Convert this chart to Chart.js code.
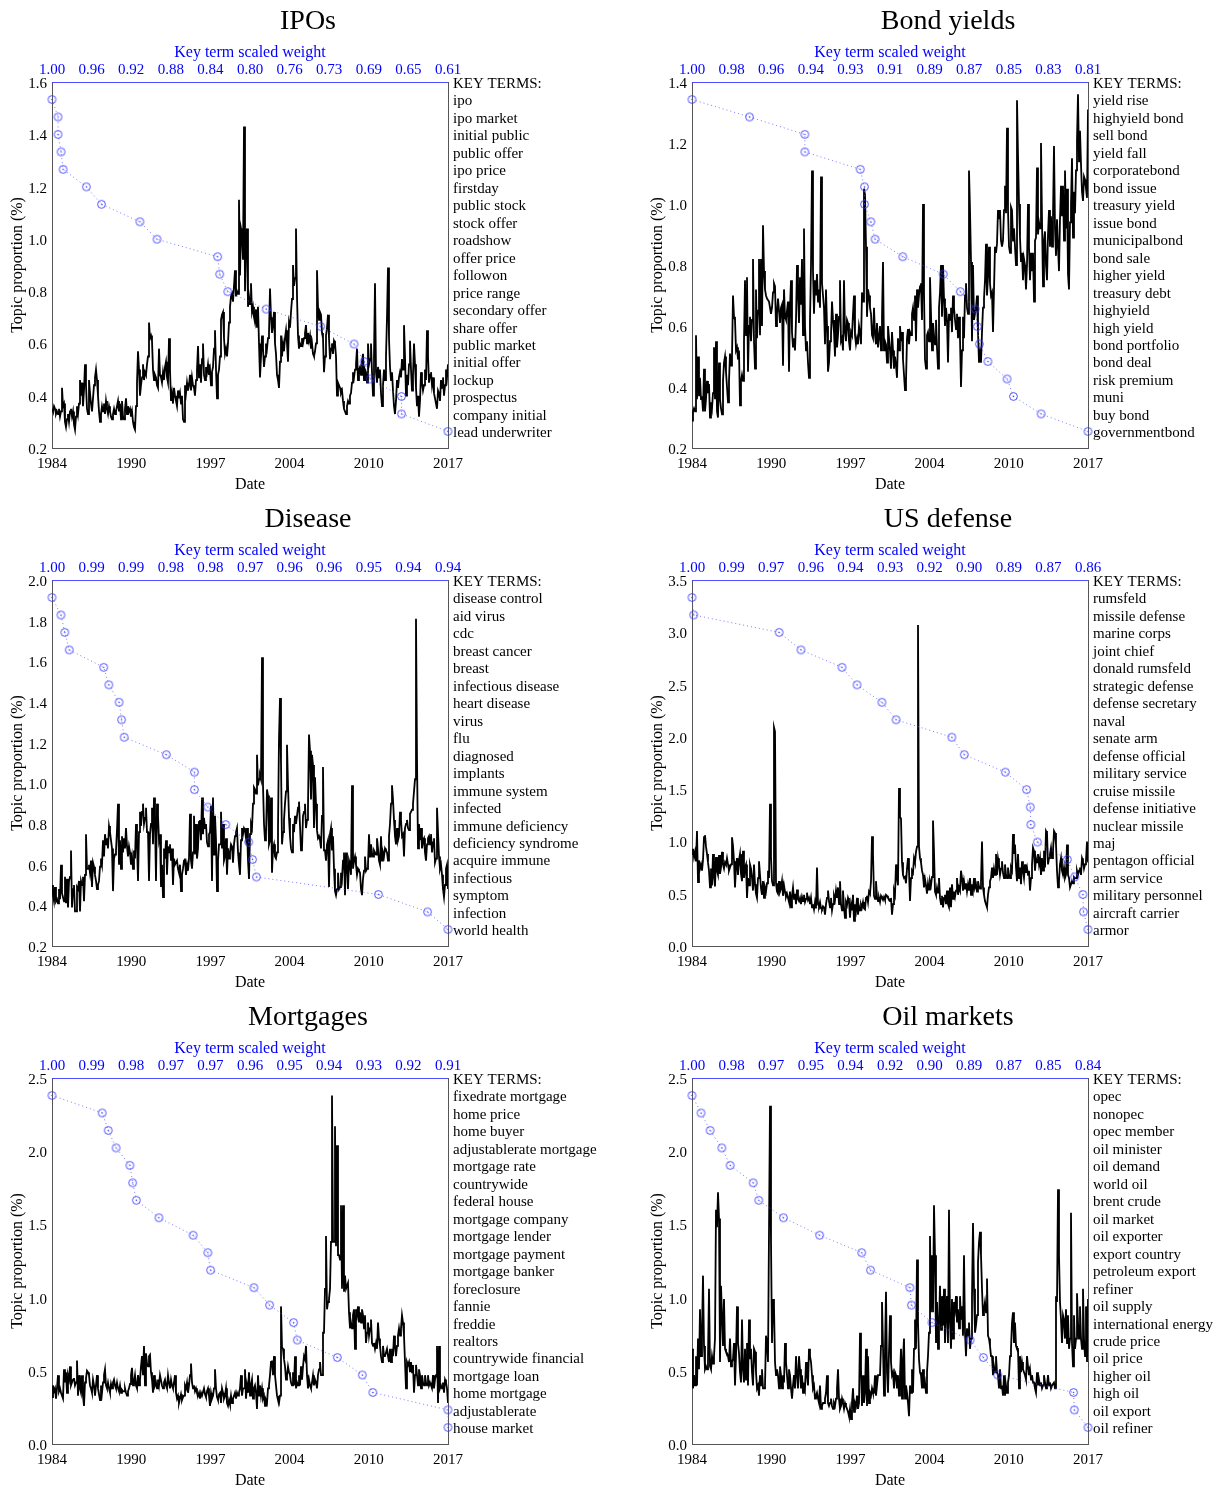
<!DOCTYPE html>
<html>
<head>
<meta charset="utf-8">
<title>Topic proportions</title>
<script src="https://cdn.jsdelivr.net/npm/chart.js@4.4.1/dist/chart.umd.min.js"></script>
<style>
  html, body { margin: 0; padding: 0; background: #fff; overflow: hidden; }
  #wrap { position: relative; width: 1217px; height: 1486px; }
  #wrap canvas { position: absolute; }
</style>
</head>
<body>
<div id="wrap">
  <canvas id="ipo"></canvas>
  <canvas id="bond"></canvas>
  <canvas id="disease"></canvas>
  <canvas id="defense"></canvas>
  <canvas id="mortgage"></canvas>
  <canvas id="oil"></canvas>
</div>
<script>
Chart.defaults.font.family = '"Liberation Serif", "Times New Roman", serif';
Chart.defaults.color = '#000';

// ────────── shared date axis ──────────
const startYear = 1984;
const endYear = 2017;
const dateTicks = ['1984', '1990', '1997', '2004', '2010', '2017'];

// ────────── IPOs ──────────
const ipoTitle = 'IPOs';
const ipoRange = [0.2, 1.6, 0.2];
const ipoWeightTicks = ['1.00','0.96','0.92','0.88','0.84','0.80','0.76','0.73','0.69','0.65','0.61'];
const ipoTerms = ['ipo','ipo market','initial public','public offer','ipo price','firstday','public stock',
  'stock offer','roadshow','offer price','followon','price range','secondary offer','share offer',
  'public market','initial offer','lockup','prospectus','company initial','lead underwriter'];
const ipoWeights = [1.000,0.994,0.994,0.991,0.989,0.966,0.951,0.913,0.896,0.836,
  0.834,0.826,0.788,0.734,0.701,0.691,0.685,0.654,0.654,0.608];
// monthly, Jan 1984 .. Jan 2017
const ipoSeries = [
  0.35,0.34,0.36,0.35,0.33,0.34,0.33,0.35,0.32,0.34,0.43,0.36,
  0.37,0.30,0.28,0.31,0.33,0.30,0.34,0.35,0.32,0.34,0.29,0.27,
  0.32,0.36,0.33,0.37,0.46,0.40,0.45,0.36,0.42,0.52,0.44,0.35,
  0.33,0.46,0.41,0.37,0.34,0.39,0.44,0.47,0.50,0.46,0.40,0.34,
  0.30,0.33,0.36,0.34,0.37,0.33,0.38,0.35,0.33,0.36,0.34,0.32,
  0.31,0.33,0.35,0.33,0.34,0.36,0.38,0.34,0.37,0.31,0.38,0.32,
  0.31,0.35,0.39,0.33,0.36,0.34,0.35,0.32,0.34,0.30,0.28,0.27,
  0.36,0.45,0.57,0.50,0.40,0.44,0.47,0.52,0.46,0.49,0.48,0.52,
  0.55,0.68,0.62,0.63,0.61,0.50,0.46,0.48,0.47,0.44,0.43,0.58,
  0.48,0.47,0.45,0.49,0.46,0.51,0.53,0.47,0.45,0.62,0.50,0.38,
  0.41,0.37,0.43,0.40,0.38,0.36,0.42,0.39,0.41,0.37,0.40,0.31,
  0.30,0.44,0.41,0.45,0.42,0.44,0.48,0.42,0.47,0.44,0.43,0.40,
  0.46,0.50,0.59,0.47,0.52,0.45,0.54,0.60,0.48,0.46,0.51,0.49,
  0.52,0.48,0.50,0.44,0.49,0.51,0.58,0.65,0.50,0.39,0.48,0.50,
  0.55,0.69,0.71,0.72,0.62,0.56,0.58,0.55,0.60,0.68,0.74,0.78,
  0.79,0.76,0.82,0.88,0.78,0.80,0.79,1.15,0.86,1.04,1.02,0.92,
  1.43,0.80,1.00,1.04,0.74,0.78,0.75,0.83,0.72,0.74,0.70,0.68,
  0.73,0.66,0.74,0.60,0.47,0.55,0.63,0.58,0.51,0.55,0.60,0.58,
  0.62,0.64,0.81,0.70,0.64,0.67,0.72,0.60,0.56,0.48,0.46,0.43,
  0.53,0.63,0.55,0.60,0.57,0.62,0.65,0.60,0.53,0.68,0.66,0.72,
  0.77,0.90,0.82,0.85,1.04,0.78,0.63,0.58,0.60,0.59,0.62,0.60,
  0.62,0.64,0.67,0.60,0.64,0.61,0.63,0.58,0.60,0.56,0.55,0.57,
  0.60,0.88,0.74,0.69,0.72,0.71,0.64,0.62,0.49,0.55,0.63,0.66,
  0.71,0.62,0.54,0.58,0.60,0.56,0.61,0.60,0.55,0.40,0.45,0.44,
  0.43,0.41,0.42,0.38,0.35,0.34,0.33,0.36,0.38,0.37,0.40,0.41,
  0.45,0.49,0.47,0.50,0.52,0.58,0.46,0.50,0.51,0.48,0.53,0.56,
  0.46,0.50,0.49,0.45,0.60,0.52,0.54,0.60,0.49,0.40,0.55,0.83,
  0.49,0.45,0.51,0.47,0.50,0.41,0.36,0.44,0.50,0.46,0.55,0.70,
  0.89,0.62,0.51,0.46,0.49,0.42,0.36,0.33,0.38,0.46,0.43,0.47,
  0.49,0.47,0.54,0.50,0.67,0.55,0.40,0.48,0.44,0.52,0.61,0.50,
  0.42,0.48,0.60,0.52,0.43,0.36,0.40,0.32,0.38,0.49,0.45,0.42,
  0.44,0.50,0.46,0.65,0.55,0.45,0.48,0.49,0.44,0.47,0.41,0.39,
  0.37,0.35,0.42,0.41,0.38,0.46,0.43,0.47,0.40,0.44,0.50,0.47,
  0.52
];

// ────────── Bond yields ──────────
const bondTitle = 'Bond yields';
const bondRange = [0.2, 1.4, 0.2];
const bondWeightTicks = ['1.00','0.98','0.96','0.94','0.93','0.91','0.89','0.87','0.85','0.83','0.81'];
const bondTerms = ['yield rise','highyield bond','sell bond','yield fall','corporatebond','bond issue',
  'treasury yield','issue bond','municipalbond','bond sale','higher yield','treasury debt','highyield',
  'high yield','bond portfolio','bond deal','risk premium','muni','buy bond','governmentbond'];
const bondWeights = [1.000,0.973,0.947,0.947,0.921,0.919,0.919,0.916,0.914,0.901,
  0.882,0.874,0.867,0.866,0.865,0.861,0.852,0.849,0.836,0.814];
const bondSeries = [
  0.29,0.32,0.33,0.32,0.57,0.36,0.50,0.37,0.43,0.36,0.37,0.32,
  0.46,0.32,0.36,0.42,0.38,0.41,0.30,0.35,0.33,0.38,0.53,0.36,
  0.55,0.32,0.30,0.48,0.36,0.33,0.31,0.42,0.48,0.50,0.45,0.40,
  0.35,0.42,0.51,0.47,0.50,0.70,0.63,0.62,0.52,0.53,0.49,0.52,
  0.34,0.42,0.44,0.42,0.55,0.75,0.57,0.76,0.45,0.60,0.63,0.55,
  0.62,0.82,0.55,0.46,0.72,0.56,0.65,0.82,0.57,0.82,0.60,0.93,
  0.78,0.72,0.70,0.69,0.69,0.68,0.66,0.64,0.66,0.71,0.74,0.73,
  0.60,0.64,0.69,0.65,0.61,0.66,0.67,0.47,0.72,0.63,0.62,0.65,
  0.68,0.45,0.66,0.75,0.58,0.53,0.56,0.52,0.62,0.80,0.71,0.61,
  0.76,0.67,0.82,0.57,0.92,0.60,0.52,0.55,0.48,0.43,0.62,0.80,
  1.11,0.78,0.64,0.75,0.70,0.77,0.68,0.72,0.66,1.09,0.74,0.70,
  0.66,0.54,0.72,0.60,0.45,0.48,0.55,0.57,0.68,0.62,0.58,0.50,
  0.64,0.53,0.57,0.63,0.75,0.55,0.56,0.52,0.75,0.58,0.55,0.62,
  0.61,0.55,0.52,0.58,0.57,0.64,0.70,0.57,0.54,0.56,0.54,0.60,
  0.58,0.54,0.71,0.68,1.05,1.03,0.86,0.63,0.72,0.70,0.66,0.64,
  0.57,0.56,0.66,0.57,0.54,0.61,0.53,0.53,0.60,0.52,0.63,0.81,
  0.52,0.55,0.54,0.48,0.60,0.56,0.52,0.46,0.58,0.52,0.46,0.50,
  0.47,0.43,0.56,0.52,0.60,0.55,0.58,0.49,0.44,0.39,0.42,0.56,
  0.59,0.54,0.58,0.57,0.64,0.66,0.62,0.70,0.55,0.72,0.66,0.70,
  0.73,0.74,0.62,1.00,0.71,0.49,0.46,0.57,0.58,0.55,0.76,0.64,
  0.52,0.61,0.57,0.54,0.62,0.53,0.46,0.66,0.71,0.80,0.63,0.80,
  0.69,0.60,0.66,0.62,0.48,0.64,0.62,0.66,0.58,0.70,0.66,0.62,
  0.59,0.64,0.56,0.63,0.56,0.40,0.52,0.63,0.56,0.70,0.74,0.66,
  0.64,1.11,0.98,0.81,0.55,0.80,0.62,0.62,0.66,0.70,0.58,0.48,
  0.51,0.48,0.58,0.66,0.69,0.75,0.87,0.70,0.76,0.86,0.74,0.70,
  0.71,0.58,0.72,0.86,0.84,0.87,0.98,0.95,0.98,0.88,0.86,0.88,
  0.98,1.06,0.97,1.25,0.98,0.86,0.84,0.99,0.98,0.88,0.92,0.86,
  0.80,1.34,1.16,1.00,0.89,0.81,0.84,0.75,0.82,0.80,0.72,0.80,
  1.00,0.86,0.75,0.84,0.78,0.84,0.68,0.88,0.89,1.12,0.90,0.94,
  0.92,1.20,0.95,0.73,0.88,0.91,0.80,0.75,0.90,0.98,0.86,0.96,
  0.86,0.96,1.19,0.92,0.83,0.95,0.86,0.78,0.95,1.06,0.96,1.06,
  0.88,1.11,0.92,1.05,0.77,0.72,0.94,1.00,1.15,0.89,1.04,0.97,
  1.11,1.21,1.36,1.14,1.24,1.13,1.04,1.01,1.09,1.08,1.05,1.02,
  1.31
];

// ────────── Disease ──────────
const diseaseTitle = 'Disease';
const diseaseRange = [0.2, 2.0, 0.2];
const diseaseWeightTicks = ['1.00','0.99','0.99','0.98','0.98','0.97','0.96','0.96','0.95','0.94','0.94'];
const diseaseTerms = ['disease control','aid virus','cdc','breast cancer','breast','infectious disease',
  'heart disease','virus','flu','diagnosed','implants','immune system','infected','immune deficiency',
  'deficiency syndrome','acquire immune','infectious','symptom','infection','world health'];
const diseaseWeights = [1.000,0.9986,0.9980,0.9973,0.9919,0.9911,0.9895,0.9891,0.9887,0.9821,
  0.9777,0.9777,0.9756,0.9728,0.9692,0.9686,0.9680,0.9489,0.9412,0.9380];
const diseaseSeries = [
  0.50,0.45,0.42,0.49,0.42,0.43,0.41,0.48,0.43,0.60,0.46,0.44,
  0.42,0.54,0.41,0.53,0.39,0.52,0.54,0.67,0.39,0.48,0.50,0.37,
  0.37,0.49,0.48,0.52,0.37,0.52,0.50,0.54,0.42,0.55,0.75,0.58,
  0.58,0.60,0.56,0.62,0.49,0.61,0.59,0.55,0.52,0.48,0.50,0.52,
  0.59,0.63,0.60,0.72,0.64,0.75,0.70,0.73,0.68,0.79,0.76,0.72,
  0.68,0.47,0.63,0.65,0.67,0.77,0.90,0.60,0.72,0.58,0.74,0.66,
  0.73,0.68,0.78,0.69,0.64,0.69,0.66,0.60,0.64,0.58,0.67,0.63,
  0.80,0.70,0.52,0.76,0.86,0.79,0.86,0.90,0.80,0.83,0.88,0.76,
  0.76,0.52,0.75,0.80,0.88,0.70,0.93,0.82,0.52,0.90,0.84,0.72,
  0.75,0.49,0.60,0.44,0.68,0.63,0.72,0.55,0.69,0.66,0.70,0.62,
  0.68,0.50,0.63,0.60,0.60,0.62,0.58,0.56,0.60,0.47,0.55,0.58,
  0.62,0.63,0.55,0.60,0.57,0.63,0.85,0.62,0.58,0.66,0.84,0.65,
  0.80,0.63,0.68,0.81,0.82,0.72,0.93,0.75,0.83,0.78,0.80,0.71,
  0.69,0.75,0.76,0.89,0.52,0.93,0.65,0.84,0.72,0.47,0.62,0.70,
  0.70,0.86,0.68,0.80,0.62,0.64,0.73,0.55,0.68,0.63,0.66,0.70,
  0.69,0.61,0.70,0.74,0.76,0.78,0.66,0.60,0.55,0.72,0.78,0.75,
  0.78,0.77,0.73,0.78,0.62,0.53,0.75,0.80,0.78,0.90,0.98,0.97,
  0.95,1.14,0.99,1.02,1.04,1.02,1.62,0.99,0.80,0.72,0.75,0.97,
  0.94,0.70,0.72,0.93,0.56,0.68,0.70,0.64,0.63,0.66,0.78,1.22,
  1.42,1.10,0.70,0.76,0.82,0.90,0.96,1.19,0.99,0.83,0.74,0.68,
  0.66,0.80,0.76,0.84,0.80,0.84,0.88,0.91,0.79,0.67,0.68,0.84,
  0.86,0.90,0.78,0.82,0.89,1.24,1.16,0.92,1.14,1.09,0.78,1.03,
  0.90,0.77,0.73,0.74,0.72,0.68,0.84,1.08,0.67,0.67,0.62,0.70,
  0.72,0.49,0.75,0.78,0.67,0.74,0.58,0.47,0.45,0.48,0.56,0.48,
  0.49,0.56,0.53,0.62,0.66,0.45,0.66,0.60,0.48,0.62,0.60,0.55,
  0.99,0.58,0.62,0.64,0.60,0.55,0.58,0.57,0.56,0.48,0.45,0.53,
  0.57,0.64,0.57,0.58,0.60,0.75,0.64,0.70,0.66,0.64,0.67,0.66,
  0.65,0.73,0.68,0.62,0.60,0.74,0.62,0.66,0.64,0.68,0.67,0.66,
  0.62,0.74,0.80,0.90,0.99,0.92,0.82,0.74,0.70,0.78,0.72,0.74,
  0.86,0.82,0.74,0.75,0.64,0.78,0.80,0.82,0.78,0.77,0.85,0.86,
  0.87,0.90,0.96,1.02,1.81,1.12,0.68,0.80,0.72,0.78,0.68,0.72,
  0.73,0.66,0.62,0.70,0.73,0.74,0.70,0.75,0.66,0.71,0.73,0.61,
  0.63,0.88,0.76,0.64,0.58,0.60,0.55,0.48,0.44,0.50,0.58,0.60,
  0.48
];

// ────────── US defense ──────────
const defenseTitle = 'US defense';
const defenseRange = [0.0, 3.5, 0.5];
const defenseWeightTicks = ['1.00','0.99','0.97','0.96','0.94','0.93','0.92','0.90','0.89','0.87','0.86'];
const defenseTerms = ['rumsfeld','missile defense','marine corps','joint chief','donald rumsfeld',
  'strategic defense','defense secretary','naval','senate arm','defense official','military service',
  'cruise missile','defense initiative','nuclear missile','maj','pentagon official','arm service',
  'military personnel','aircraft carrier','armor'];
const defenseWeights = [1.000,0.9994,0.9692,0.9615,0.9470,0.9417,0.9329,0.9279,0.9082,0.9038,
  0.8893,0.8818,0.8805,0.8803,0.8780,0.8674,0.8648,0.8619,0.8617,0.8601];
const defenseSeries = [
  0.88,0.93,0.85,0.90,0.81,1.10,0.61,0.82,0.74,0.78,0.72,0.82,
  1.04,1.06,0.95,0.88,0.80,0.72,0.56,0.74,0.58,0.88,0.66,0.57,
  0.85,0.72,0.68,0.87,0.69,0.75,0.90,0.78,0.74,0.80,0.78,0.84,
  0.78,0.72,0.75,0.78,1.04,0.96,0.81,0.56,0.75,0.84,0.68,0.82,
  0.88,0.69,0.62,0.91,0.65,0.75,0.78,0.46,0.65,0.58,0.78,0.74,
  0.65,0.53,0.78,0.59,0.50,0.46,0.65,0.81,0.68,0.55,0.49,0.62,
  0.46,0.56,0.52,0.60,0.72,0.65,1.36,0.85,0.62,0.58,2.09,2.05,
  0.60,0.52,0.50,0.62,0.52,0.55,0.62,0.48,0.58,0.52,0.47,0.50,
  0.46,0.42,0.52,0.37,0.48,0.56,0.45,0.50,0.40,0.54,0.45,0.43,
  0.46,0.40,0.47,0.43,0.49,0.42,0.45,0.51,0.44,0.46,0.40,0.46,
  0.37,0.40,0.35,0.42,0.36,0.75,0.40,0.38,0.42,0.36,0.35,0.38,
  0.37,0.30,0.40,0.46,0.53,0.43,0.37,0.46,0.34,0.40,0.48,0.44,
  0.53,0.46,0.56,0.40,0.62,0.40,0.34,0.53,0.37,0.27,0.42,0.39,
  0.46,0.43,0.27,0.40,0.34,0.49,0.24,0.40,0.34,0.46,0.30,0.38,
  0.34,0.40,0.37,0.42,0.36,0.35,0.46,0.48,0.42,0.52,0.50,0.62,
  1.05,0.88,0.48,0.45,0.62,0.47,0.43,0.46,0.42,0.48,0.46,0.44,
  0.47,0.44,0.49,0.48,0.46,0.45,0.43,0.46,0.30,0.40,0.53,0.49,
  0.78,0.65,0.58,1.51,1.23,1.22,0.80,0.68,0.65,0.66,0.60,0.74,
  0.84,0.72,0.43,0.65,0.72,0.70,0.84,0.80,0.90,0.95,3.07,0.95,
  0.84,0.80,0.72,0.68,0.56,0.64,0.58,0.50,0.60,0.54,0.62,0.58,
  0.66,1.20,0.90,0.52,0.49,0.56,0.51,0.65,0.46,0.40,0.48,0.37,
  0.46,0.49,0.40,0.53,0.40,0.37,0.56,0.37,0.59,0.45,0.52,0.47,
  0.53,0.65,0.49,0.56,0.53,0.72,0.65,0.53,0.62,0.55,0.60,0.52,
  0.59,0.53,0.65,0.49,0.59,0.53,0.65,0.56,0.59,0.52,0.62,0.57,
  0.55,0.62,1.00,0.56,0.49,0.43,0.40,0.37,0.49,0.56,0.62,0.65,
  0.75,0.65,0.74,0.68,0.88,0.68,0.84,0.78,0.68,0.74,0.81,0.70,
  0.65,0.78,0.68,0.65,0.75,0.68,0.65,0.75,0.72,1.07,0.88,0.97,
  0.75,0.62,0.88,0.65,0.75,0.59,0.81,0.72,0.65,0.78,0.70,0.75,
  0.68,0.72,0.53,0.65,0.78,0.94,0.91,0.72,0.84,0.80,0.88,0.78,
  0.84,0.68,0.84,0.72,0.91,0.75,1.10,1.08,0.78,0.84,0.88,0.94,
  0.84,0.91,1.10,1.08,0.97,0.72,0.56,0.62,0.78,0.84,0.72,0.68,
  0.75,0.65,0.68,0.97,0.68,0.65,0.56,0.56,0.62,0.60,0.66,0.65,
  0.65,0.72,0.68,0.72,0.75,0.68,0.84,0.81,0.74,0.78,0.82,1.00,
  0.80
];

// ────────── Mortgages ──────────
const mortgageTitle = 'Mortgages';
const mortgageRange = [0.0, 2.5, 0.5];
const mortgageWeightTicks = ['1.00','0.99','0.98','0.97','0.97','0.96','0.95','0.94','0.93','0.92','0.91'];
const mortgageTerms = ['fixedrate mortgage','home price','home buyer','adjustablerate mortgage',
  'mortgage rate','countrywide','federal house','mortgage company','mortgage lender','mortgage payment',
  'mortgage banker','foreclosure','fannie','freddie','realtors','countrywide financial','mortgage loan',
  'home mortgage','adjustablerate','house market'];
const mortgageWeights = [1.000,0.9891,0.9878,0.9861,0.9831,0.9825,0.9817,0.9768,0.9694,0.9662,
  0.9656,0.9562,0.9528,0.9476,0.9468,0.9381,0.9327,0.9304,0.9141,0.9141];
const mortgageSeries = [
  0.32,0.40,0.36,0.38,0.31,0.38,0.47,0.36,0.38,0.35,0.33,0.31,
  0.51,0.42,0.49,0.35,0.47,0.44,0.53,0.40,0.42,0.44,0.45,0.40,
  0.42,0.57,0.33,0.47,0.38,0.35,0.47,0.33,0.26,0.42,0.45,0.50,
  0.49,0.47,0.40,0.38,0.35,0.44,0.40,0.33,0.40,0.47,0.38,0.34,
  0.30,0.40,0.35,0.42,0.47,0.51,0.40,0.38,0.42,0.38,0.35,0.41,
  0.38,0.42,0.44,0.40,0.38,0.42,0.38,0.36,0.40,0.35,0.37,0.36,
  0.36,0.38,0.35,0.33,0.36,0.38,0.41,0.47,0.52,0.40,0.42,0.47,
  0.40,0.38,0.47,0.40,0.44,0.53,0.60,0.47,0.67,0.40,0.62,0.55,
  0.53,0.60,0.61,0.49,0.44,0.35,0.47,0.40,0.42,0.38,0.44,0.40,
  0.47,0.47,0.40,0.38,0.42,0.44,0.40,0.38,0.47,0.42,0.38,0.44,
  0.40,0.38,0.42,0.47,0.35,0.31,0.33,0.28,0.31,0.34,0.30,0.32,
  0.33,0.40,0.38,0.42,0.35,0.40,0.47,0.55,0.42,0.38,0.40,0.36,
  0.38,0.35,0.33,0.35,0.31,0.35,0.33,0.33,0.38,0.34,0.32,0.36,
  0.38,0.33,0.26,0.35,0.31,0.33,0.38,0.51,0.38,0.32,0.30,0.34,
  0.35,0.28,0.38,0.35,0.31,0.33,0.38,0.28,0.26,0.30,0.27,0.33,
  0.28,0.31,0.33,0.35,0.31,0.35,0.33,0.35,0.38,0.47,0.33,0.38,
  0.38,0.51,0.31,0.40,0.35,0.49,0.33,0.40,0.44,0.31,0.38,0.40,
  0.35,0.24,0.47,0.33,0.40,0.33,0.38,0.31,0.33,0.26,0.30,0.28,
  0.38,0.40,0.47,0.56,0.57,0.47,0.60,0.47,0.40,0.33,0.30,0.28,
  0.33,0.94,0.66,0.65,0.58,0.53,0.44,0.47,0.53,0.49,0.47,0.42,
  0.40,0.49,0.40,0.60,0.38,0.42,0.40,0.47,0.40,0.53,0.44,0.53,
  0.60,0.58,0.67,0.47,0.38,0.44,0.40,0.38,0.42,0.47,0.40,0.44,
  0.42,0.38,0.47,0.51,0.56,0.47,0.47,0.76,0.76,1.06,1.42,0.92,
  0.97,0.99,1.06,1.38,2.38,1.38,1.38,2.17,1.35,2.04,1.29,1.29,
  1.26,1.63,1.06,1.63,1.04,1.15,1.06,1.06,1.10,0.90,0.79,0.83,
  0.79,0.88,0.92,0.65,0.92,0.88,0.94,0.83,0.90,0.83,0.92,0.88,
  0.79,0.88,0.69,0.76,0.83,0.74,0.79,0.85,0.69,0.67,0.69,0.65,
  0.69,0.65,0.83,0.72,0.67,0.60,0.56,0.67,0.60,0.60,0.60,0.65,
  0.60,0.56,0.65,0.56,0.65,0.60,0.74,0.67,0.60,0.67,0.74,0.79,
  0.74,0.79,0.88,0.83,0.74,0.56,0.38,0.56,0.54,0.56,0.49,0.56,
  0.49,0.54,0.35,0.47,0.54,0.47,0.40,0.51,0.47,0.38,0.47,0.42,
  0.40,0.47,0.42,0.40,0.47,0.40,0.42,0.40,0.38,0.47,0.38,0.44,
  0.47,0.67,0.28,0.67,0.38,0.40,0.38,0.42,0.35,0.44,0.42,0.38,
  0.28
];

// ────────── Oil markets ──────────
const oilTitle = 'Oil markets';
const oilRange = [0.0, 2.5, 0.5];
const oilWeightTicks = ['1.00','0.98','0.97','0.95','0.94','0.92','0.90','0.89','0.87','0.85','0.84'];
const oilTerms = ['opec','nonopec','opec member','oil minister','oil demand','world oil','brent crude',
  'oil market','oil exporter','export country','petroleum export','refiner','oil supply',
  'international energy','crude price','oil price','higher oil','high oil','oil export','oil refiner'];
const oilWeights = [1.000,0.9963,0.9926,0.9878,0.9844,0.9750,0.9727,0.9626,0.9478,0.9306,
  0.9270,0.9109,0.9103,0.9019,0.8863,0.8809,0.8750,0.8440,0.8437,0.8381];
const oilSeries = [
  0.65,0.38,0.47,0.40,0.60,0.40,0.72,0.51,0.92,0.60,0.76,1.15,
  0.67,0.51,0.53,0.51,0.60,1.06,0.53,0.51,0.60,0.55,0.60,0.72,
  1.60,1.48,1.72,1.54,0.56,1.08,0.88,0.67,0.99,0.65,0.63,0.62,
  0.60,0.56,0.72,0.53,0.56,0.58,0.69,0.40,0.60,0.94,0.69,0.62,
  0.49,0.42,0.85,0.51,0.42,0.65,0.44,0.69,0.40,0.85,0.58,0.65,
  0.49,0.40,0.65,0.63,0.49,0.38,0.40,0.33,0.47,0.40,0.51,0.38,
  0.38,0.40,0.74,0.69,0.56,1.45,2.31,1.38,0.69,0.99,0.94,0.56,
  0.47,0.51,0.47,0.38,0.53,0.47,0.38,0.47,0.42,0.69,0.56,0.47,
  0.38,0.51,0.47,0.38,0.31,0.40,0.47,0.38,0.60,0.47,0.38,0.60,
  0.51,0.38,0.47,0.35,0.42,0.38,0.56,0.47,0.40,0.65,0.60,0.56,
  0.47,0.38,0.40,0.31,0.33,0.35,0.31,0.28,0.40,0.24,0.26,0.28,
  0.28,0.31,0.35,0.47,0.28,0.26,0.28,0.31,0.26,0.24,0.28,0.26,
  0.31,0.38,0.51,0.31,0.24,0.26,0.31,0.28,0.24,0.28,0.26,0.24,
  0.22,0.19,0.24,0.17,0.28,0.38,0.22,0.28,0.26,0.33,0.24,0.28,
  0.76,0.51,0.26,0.47,0.28,0.35,0.65,0.26,0.60,0.28,0.35,0.33,
  0.38,0.35,0.35,0.47,0.33,0.40,0.47,0.47,0.47,0.67,0.97,0.67,
  0.33,0.65,1.04,0.49,0.35,0.63,0.88,0.56,0.47,0.49,0.38,0.49,
  0.47,0.38,0.47,0.33,0.47,0.65,0.31,0.58,0.72,0.31,0.40,0.35,
  0.28,0.19,0.40,0.35,0.51,0.35,0.65,0.85,0.65,1.26,0.83,0.58,
  0.49,0.47,0.38,0.51,0.38,0.42,0.35,0.49,0.60,0.76,1.42,0.90,
  1.29,0.90,1.63,1.29,0.69,0.97,0.65,0.83,1.08,0.78,1.01,0.81,
  1.06,0.69,0.88,1.01,0.69,1.60,0.83,0.65,0.99,0.72,0.97,0.92,
  1.01,0.83,0.92,0.79,1.01,0.85,0.94,0.74,1.29,0.76,0.60,0.79,
  0.74,0.83,0.65,0.72,1.01,1.51,1.06,0.76,0.81,0.88,1.24,1.38,
  1.45,1.29,1.06,0.88,0.92,0.97,0.90,1.13,0.74,0.72,0.67,0.60,
  0.60,0.47,0.53,0.49,0.60,0.49,0.47,0.38,0.51,0.38,0.40,0.33,
  0.47,0.33,0.40,0.35,0.42,0.47,0.60,0.65,0.83,0.90,0.69,0.83,
  0.67,0.65,0.65,0.38,0.60,0.49,0.56,0.51,0.49,0.47,0.44,0.60,
  0.53,0.47,0.51,0.44,0.47,0.42,0.42,0.38,0.35,0.49,0.40,0.44,
  0.40,0.42,0.38,0.40,0.47,0.42,0.38,0.40,0.47,0.40,0.42,0.38,
  0.40,0.40,0.42,0.38,1.01,0.97,1.74,1.29,0.97,0.85,0.69,0.88,
  0.85,0.72,0.92,0.69,0.88,0.65,0.72,1.58,0.69,0.53,0.88,0.65,
  0.72,1.03,0.83,0.72,0.94,0.72,0.65,1.06,0.72,0.60,0.94,0.56,
  0.99
];

// ────────── drawing ──────────
const PANEL_H = 498;
const PLOT_LEFT = 52, PLOT_TOP = 82, PLOT_RIGHT = 448, PLOT_BOTTOM = 448;
const BLUE = '#0000ff';
const AXIS_GREY = '#555';

// hollow blue circle with a centre dot for the key-term markers
const ringMarker = (() => {
  const c = document.createElement('canvas');
  c.width = c.height = 13;
  const g = c.getContext('2d');
  g.strokeStyle = 'rgba(50,50,255,0.85)';
  g.fillStyle = 'rgba(50,50,255,0.85)';
  g.lineWidth = 1;
  g.beginPath(); g.arc(6.5, 6.5, 3.9, 0, 2 * Math.PI); g.stroke();
  g.beginPath(); g.arc(6.5, 6.5, 0.8, 0, 2 * Math.PI); g.fill();
  return c;
})();

const panelTitle = {
  id: 'panelTitle',
  afterDraw(chart, args, opts) {
    const { ctx, chartArea } = chart;
    ctx.save();
    ctx.font = '28px "Liberation Serif", "Times New Roman", serif';
    ctx.fillStyle = '#000';
    ctx.textAlign = 'center';
    ctx.textBaseline = 'middle';
    ctx.fillText(opts.text, chartArea.left + 256, 22);
    ctx.restore();
  }
};

function drawPanel(id, left, top, width, p) {
  const canvas = document.getElementById(id);
  canvas.width = width;
  canvas.height = PANEL_H;
  canvas.style.left = left + 'px';
  canvas.style.top = top + 'px';

  const wMin = Math.min(...p.weights);
  const [yMin, yMax, yStep] = p.range;
  const noGrid = { display: false, drawTicks: false };
  const tickFont = { size: 15 };
  const titleFont = { size: 16 };

  new Chart(canvas, {
    type: 'line',
    data: {
      datasets: [
        {
          data: p.terms.map((t, i) => ({ x: p.weights[i], y: i + 1 })),
          xAxisID: 'xw', yAxisID: 'yt',
          borderColor: 'rgba(90,90,255,0.8)', borderWidth: 1, borderDash: [1, 3],
          pointStyle: ringMarker, pointRadius: 4, clip: false, order: 0
        },
        {
          data: p.series.map((v, i) => ({ x: startYear + i / 12, y: v })),
          xAxisID: 'x', yAxisID: 'y',
          borderColor: '#000', borderWidth: 1.8, pointRadius: 0, order: 1
        }
      ]
    },
    options: {
      responsive: false,
      animation: false,
      events: [],
      layout: { padding: 0 },
      plugins: {
        legend: { display: false },
        tooltip: { enabled: false },
        panelTitle: { text: p.title }
      },
      scales: {
        x: {
          type: 'linear', position: 'bottom', min: startYear, max: endYear,
          grid: noGrid, border: { color: AXIS_GREY },
          ticks: { font: tickFont, padding: 7, autoSkip: false, maxRotation: 0,
                   callback: (v, i) => dateTicks[i] },
          afterBuildTicks: s => {
            const step = (endYear - startYear) / (dateTicks.length - 1);
            s.ticks = dateTicks.map((t, i) => ({ value: startYear + i * step }));
          },
          title: { display: true, text: 'Date', font: titleFont, padding: { top: 0, bottom: 4 } },
          afterFit: s => { s.height = PANEL_H - PLOT_BOTTOM; }
        },
        y: {
          type: 'linear', position: 'left', min: yMin, max: yMax,
          grid: noGrid, border: { color: AXIS_GREY },
          ticks: { font: tickFont, padding: 5, labelOffset: 2, autoSkip: false, callback: v => v.toFixed(1) },
          afterBuildTicks: s => {
            const n = Math.round((yMax - yMin) / yStep);
            s.ticks = Array.from({ length: n + 1 }, (_, k) => ({ value: yMin + k * yStep }));
          },
          title: { display: true, text: 'Topic proportion (%)', font: titleFont, padding: { top: 8, bottom: 0 } },
          afterFit: s => { s.width = PLOT_LEFT; }
        },
        xw: {
          type: 'linear', position: 'top', min: wMin, max: 1, reverse: true,
          grid: noGrid, border: { color: 'rgba(60,60,255,0.9)' },
          ticks: { font: tickFont, color: BLUE, padding: 3, autoSkip: false, maxRotation: 0,
                   callback: (v, i) => p.weightTicks[p.weightTicks.length - 1 - i] },
          afterBuildTicks: s => {
            const n = p.weightTicks.length - 1;
            s.ticks = p.weightTicks.map((t, k) => ({ value: wMin + k * (1 - wMin) / n }));
          },
          title: { display: true, text: 'Key term scaled weight', color: BLUE, font: titleFont,
                   padding: { top: 43, bottom: 0 } },
          afterFit: s => { s.height = PLOT_TOP; }
        },
        yt: {
          type: 'linear', position: 'right', min: 0, max: 20.95, reverse: true,
          grid: noGrid, border: { color: AXIS_GREY },
          ticks: { font: tickFont, padding: 5, labelOffset: 2, autoSkip: false,
                   callback: (v, i) => (i === 0 ? 'KEY TERMS:' : p.terms[i - 1]) },
          afterBuildTicks: s => {
            s.ticks = Array.from({ length: p.terms.length + 1 }, (_, k) => ({ value: k }));
          },
          afterFit: s => { s.width = width - PLOT_RIGHT; }
        }
      }
    },
    plugins: [panelTitle]
  });
}

drawPanel('ipo', 0, 0, 640, { title: ipoTitle, range: ipoRange, weightTicks: ipoWeightTicks,
  terms: ipoTerms, weights: ipoWeights, series: ipoSeries });
drawPanel('bond', 640, 0, 577, { title: bondTitle, range: bondRange, weightTicks: bondWeightTicks,
  terms: bondTerms, weights: bondWeights, series: bondSeries });
drawPanel('disease', 0, 498, 640, { title: diseaseTitle, range: diseaseRange, weightTicks: diseaseWeightTicks,
  terms: diseaseTerms, weights: diseaseWeights, series: diseaseSeries });
drawPanel('defense', 640, 498, 577, { title: defenseTitle, range: defenseRange, weightTicks: defenseWeightTicks,
  terms: defenseTerms, weights: defenseWeights, series: defenseSeries });
drawPanel('mortgage', 0, 996, 640, { title: mortgageTitle, range: mortgageRange, weightTicks: mortgageWeightTicks,
  terms: mortgageTerms, weights: mortgageWeights, series: mortgageSeries });
drawPanel('oil', 640, 996, 577, { title: oilTitle, range: oilRange, weightTicks: oilWeightTicks,
  terms: oilTerms, weights: oilWeights, series: oilSeries });
</script>
</body>
</html>
